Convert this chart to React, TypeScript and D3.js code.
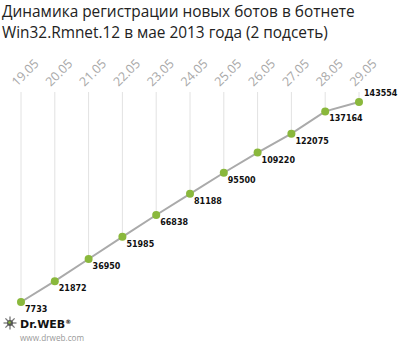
import * as d3 from "d3"

const TITLE_LINES = [
  "Динамика регистрации новых ботов в ботнете",
  "Win32.Rmnet.12 в мае 2013 года (2 подсеть)",
]
const DATES = ["19.05", "20.05", "21.05", "22.05", "23.05", "24.05", "25.05", "26.05", "27.05", "28.05", "29.05"]
const BOTS = [7733, 21872, 36950, 51985, 66838, 81188, 95500, 109220, 122075, 137164, 143554]

const WIDTH = 400
const HEIGHT = 344
const GRID_TOP = 92
const DOT_COLOR = "#8ab83c"

export default function App() {
  const x = d3.scalePoint<string>().domain(DATES).range([21, 359])
  const [lo, hi] = d3.extent(BOTS) as [number, number]
  const y = d3.scaleLinear().domain([lo, hi]).range([302, 102])

  const points = DATES.map((d, i) => ({ date: d, value: BOTS[i] }))
  const line = d3
    .line<{ date: string; value: number }>()
    .x((d) => x(d.date) ?? 0)
    .y((d) => y(d.value))

  return (
    <>
      <style>{`body{margin:0}`}</style>
      <svg width={WIDTH} height={HEIGHT} style={{ display: "block", background: "#fff" }}>
        {/* title */}
        {TITLE_LINES.map((t, i) => (
          <text
            key={t}
            x={2}
            y={17 + i * 21}
            fontFamily="'Open Sans', sans-serif"
            fontSize={15.4}
            fill="#222"
          >
            {t}
          </text>
        ))}

        {/* vertical grid + rotated dates */}
        {points.map((p) => {
          const px = x(p.date) ?? 0
          return (
            <g key={p.date}>
              <line x1={px} x2={px} y1={GRID_TOP} y2={y(p.value)} stroke="#e2e2e2" strokeWidth={1} />
              <text
                transform={`translate(${px - 4},${GRID_TOP - 5}) rotate(-45)`}
                fontFamily="'Open Sans', sans-serif"
                fontSize={12.5}
                fill="#a8a8a8"
              >
                {p.date}
              </text>
            </g>
          )
        })}

        <path d={line(points) ?? ""} fill="none" stroke="#aaaaaa" strokeWidth={2} />

        {points.map((p, i) => {
          const px = x(p.date) ?? 0
          const py = y(p.value)
          const last = i === points.length - 1
          return (
            <g key={"pt" + p.date}>
              <circle cx={px} cy={py} r={4} fill={DOT_COLOR} />
              <text
                x={px + (last ? 5 : 4)}
                y={last ? py - 6 : py + 10}
                fontFamily="'DejaVu Sans', sans-serif"
                fontWeight="bold"
                fontSize={8}
                fill="#111"
              >
                {p.value}
              </text>
            </g>
          )
        })}

        {/* Dr.WEB logo */}
        <g transform="translate(10,323)">
          {d3.range(8).map((k) => {
            const a = (k / 8) * Math.PI * 2
            return (
              <line
                key={k}
                x1={Math.cos(a) * 2.5}
                y1={Math.sin(a) * 2.5}
                x2={Math.cos(a) * 6.5}
                y2={Math.sin(a) * 6.5}
                stroke="#777"
                strokeWidth={1.3}
              />
            )
          })}
          <circle r={3} fill="#555" />
          <circle r={1.3} cx={-0.5} cy={-0.5} fill={DOT_COLOR} />
        </g>
        <text x={20} y={328} fontFamily="'DejaVu Sans', sans-serif" fontWeight="bold" fontSize={11} fill="#111">
          Dr.WEB
          <tspan fontSize={6} dy={-4}>®</tspan>
        </text>
        <text x={20} y={341} fontFamily="'Open Sans', sans-serif" fontSize={8.2} fill="#999">
          www.drweb.com
        </text>
      </svg>
    </>
  )
}
